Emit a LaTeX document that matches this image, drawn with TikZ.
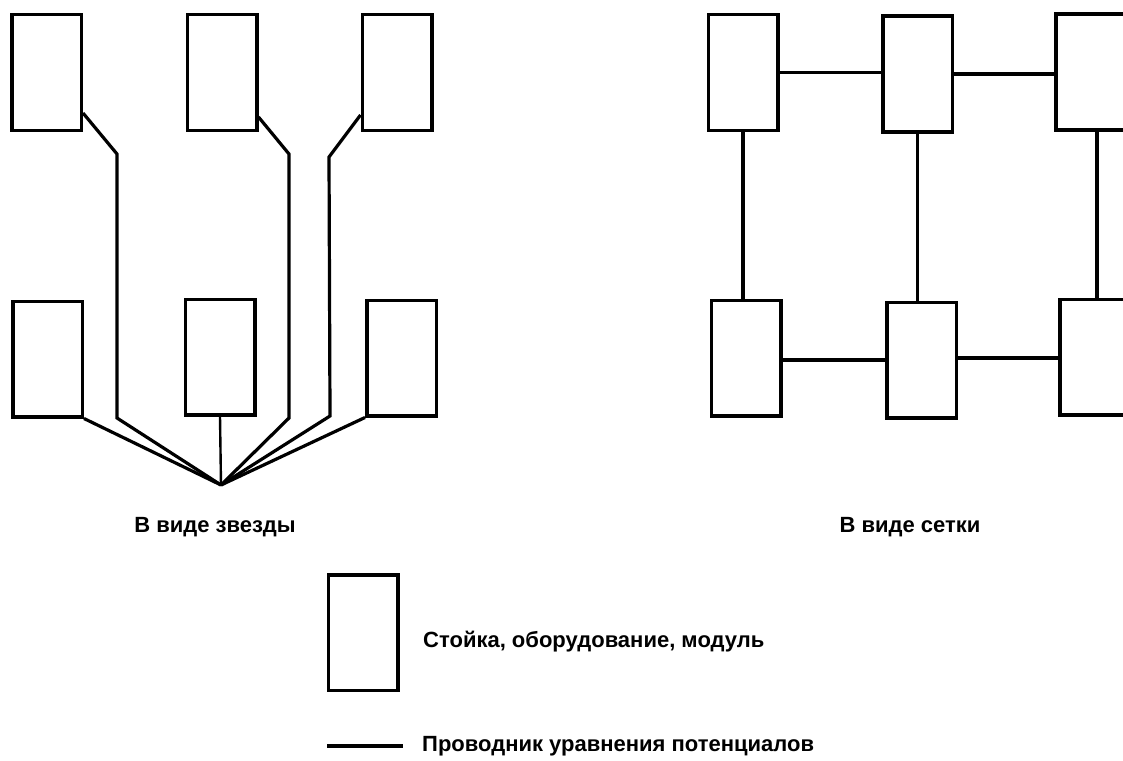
\documentclass[tikz,border=0pt]{standalone}
\usepackage{fontspec}
\setmainfont{Liberation Sans}
\begin{document}
\begin{tikzpicture}[x=1pt,y=-1pt,
  rack/.style={draw, line width=3.5pt, minimum width=69.5pt, minimum height=115.5pt, inner sep=0pt},
  wire/.style={line width=3.2pt, line join=miter},
  lbl/.style={anchor=base, font=\fontsize{22}{25}\selectfont\bfseries, inner sep=0pt}]
\useasboundingbox (0,0) rectangle (1123,760);
\clip (0,0) rectangle (1123,760);
% star
\node[rack] (s1) at (46.5,72.5) {};
\node[rack] (s2) at (222,72.5) {};
\node[rack] (s3) at (397,72.5) {};
\node[rack] (s4) at (47.5,359) {};
\node[rack] (s5) at (220,357) {};
\node[rack] (s6) at (401.5,358) {};
\coordinate (hub) at (221,485);
\coordinate (a1) at (117,154);
\coordinate (a2) at (117,418);
\coordinate (b1) at (289,154);
\coordinate (b2) at (289,418);
\coordinate (c1) at (329,157);
\coordinate (c2) at (330,416);
\draw[wire] ([yshift=19pt]s1.south east) -- (a1) -- (a2) -- (hub);
\draw[wire] ([yshift=15pt]s2.south east) -- (b1) -- (b2) -- (hub);
\draw[wire] ([yshift=17pt]s3.south west) -- (c1) -- (c2) -- (hub);
\draw[wire] (s4.south east) -- (hub);
\draw[wire, line width=2.4pt] (s5.south) -- (hub);
\draw[wire] (s6.south west) -- (hub);
% mesh
\node[rack] (m1) at (743,72.5) {};
\node[rack] (m2) at (917.5,74) {};
\node[rack] (m3) at (1090.5,72) {};
\node[rack] (m4) at (746,358) {};
\node[rack] (m5) at (921.5,360) {};
\node[rack] (m6) at (1094.5,357) {};
\draw[wire] (m1.east) -- (m1.east -| m2.west);
\draw[wire] (m2.east) -- (m2.east -| m3.west);
\draw[wire] (m1.south) -- (m1.south |- m4.north);
\draw[wire] (m2.south) -- (m2.south |- m5.north);
\draw[wire] ([xshift=6.5pt]m3.south) -- ([xshift=6.5pt]m3.south |- m6.north);
\draw[wire] ([yshift=-2pt]m4.east) -- ([yshift=-2pt]m4.east -| m5.west);
\draw[wire] ([yshift=2pt]m5.east) -- ([yshift=2pt]m5.east -| m6.west);
% captions
\node[lbl] (t1) at (215,532) {В виде звезды};
\node[lbl] (t2) at (910,532) {В виде сетки};
% legend
\node[rack] (lg) at (363,632.5) {};
\node[lbl, anchor=base west] (lt1) at (423,647) {Стойка, оборудование, модуль};
\coordinate (l1) at (327,746);
\coordinate (l2) at (403,746);
\draw[wire] (l1) -- (l2);
\node[lbl, anchor=base west] (lt2) at (422,751) {Проводник уравнения потенциалов};
\end{tikzpicture}
\end{document}
